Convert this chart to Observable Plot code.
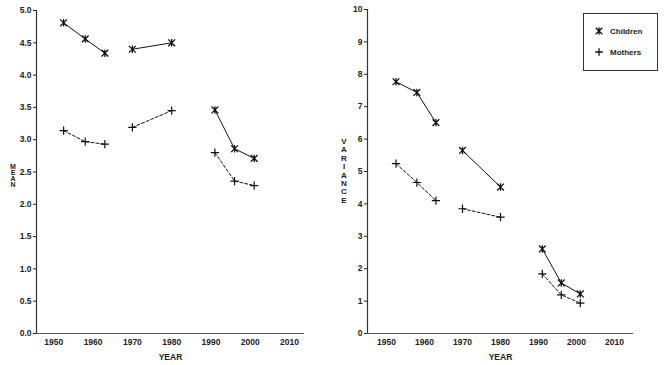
<!DOCTYPE html>
<html>
<head>
<meta charset="utf-8">
<script src="https://cdn.jsdelivr.net/npm/d3@7"></script>
<script src="https://cdn.jsdelivr.net/npm/@observablehq/plot@0.6"></script>
<style>
  html, body { margin: 0; padding: 0; background: #fff; }
  #wrap { position: relative; width: 668px; height: 365px; overflow: hidden; font-family: "Liberation Sans", Arial, sans-serif; }
  .panel { position: absolute; top: 0; }
  .vlab { position: absolute; font-weight: bold; color: #222; text-align: center; }
  #legend { position: absolute; left: 583px; top: 13px; width: 75px; height: 58px; border: 1px solid #333; box-sizing: border-box; font-size: 8px; font-weight: bold; color: #222; }
  #legend .row { position: absolute; left: 10px; display: flex; align-items: center; }
  #legend svg { margin-right: 6px; }
</style>
</head>
<body>
<div id="wrap">
  <div id="left" class="panel" style="left:0px"></div>
  <div id="right" class="panel" style="left:334px"></div>
  <div class="vlab" id="meanLab" style="left:8px; top:164px; width:10px; font-size:7px; line-height:6px;"></div>
  <div class="vlab" id="varLab" style="left:339px; top:138px; width:10px; font-size:8px; line-height:8.4px;"></div>
  <div id="legend"></div>
</div>
<script>
// ---- data ----
const years = [1952.5, 1958, 1963, 1970, 1980, 1991, 1996, 2001];
const periods = ["p1", "p1", "p1", "p2", "p2", "p3", "p3", "p3"];
const childrenMean = [4.81, 4.56, 4.34, 4.40, 4.50, 3.46, 2.86, 2.71];
const mothersMean = [3.14, 2.97, 2.93, 3.19, 3.45, 2.80, 2.36, 2.29];
const childrenVar = [7.77, 7.44, 6.51, 5.65, 4.52, 2.61, 1.56, 1.22];
const mothersVar = [5.24, 4.66, 4.10, 3.85, 3.59, 1.84, 1.19, 0.94];
const xTicks = [1950, 1960, 1970, 1980, 1990, 2000, 2010];
const meanTicks = [0, 0.5, 1, 1.5, 2, 2.5, 3, 3.5, 4, 4.5, 5];
const varTicks = [0, 1, 2, 3, 4, 5, 6, 7, 8, 9, 10];
const seriesNames = ["Children", "Mothers"];
const meanLabel = "MEAN";
const varLabel = "VARIANCE";
const xLabel = "YEAR";

// ---- symbols ----
const asteriskSym = {
  draw(ctx, size) {
    const r = Math.sqrt(size / Math.PI);
    ctx.moveTo(-r, -r); ctx.lineTo(r, r);
    ctx.moveTo(-r, r); ctx.lineTo(r, -r);
    ctx.moveTo(0, -r * 1.1); ctx.lineTo(0, r * 1.1);
  }
};
const plusSym = {
  draw(ctx, size) {
    const r = Math.sqrt(size / Math.PI);
    ctx.moveTo(-r * 1.15, 0); ctx.lineTo(r * 1.15, 0);
    ctx.moveTo(0, -r * 1.15); ctx.lineTo(0, r * 1.15);
  }
};

function rows(vals) {
  return years.map((y, i) => ({year: y, value: vals[i], period: periods[i]}));
}

function panel({width, marginLeft, marginRight, marginTop, xDomain, yDomain, yTicks, yFormat, children, mothers}) {
  const c = rows(children), m = rows(mothers);
  return Plot.plot({
    width, height: 365,
    marginLeft, marginRight, marginTop, marginBottom: 32,
    style: {fontFamily: "'Liberation Sans', Arial, sans-serif", fontSize: "8.5px", fontWeight: "bold", color: "#222", background: "white"},
    x: {domain: xDomain, ticks: xTicks, tickFormat: d => String(d), tickSize: 0, tickPadding: 5, label: null},
    y: {domain: yDomain, ticks: yTicks, tickFormat: yFormat, tickSize: 3, tickPadding: 2, label: null},
    marks: [
      Plot.ruleX([xDomain[0]], {stroke: "#333", strokeWidth: 1.2}),
      Plot.ruleY([yDomain[0]], {stroke: "#555", strokeWidth: 1.2}),
      Plot.line(c, {x: "year", y: "value", z: "period", stroke: "#111", strokeWidth: 1}),
      Plot.line(m, {x: "year", y: "value", z: "period", stroke: "#111", strokeWidth: 1, strokeDasharray: "3,2"}),
      Plot.dot(c, {x: "year", y: "value", symbol: asteriskSym, r: 3.4, stroke: "#111", strokeWidth: 1.3, fill: "none"}),
      Plot.dot(m, {x: "year", y: "value", symbol: plusSym, r: 3.6, stroke: "#111", strokeWidth: 1.2, fill: "none"}),
      Plot.text([xLabel], {frameAnchor: "bottom", lineAnchor: "bottom", dy: 26, text: d => d, fontSize: 8.5, fontWeight: "bold"})
    ]
  });
}

document.getElementById("left").append(panel({
  width: 334, marginLeft: 36, marginRight: 30, marginTop: 10,
  xDomain: [1945.6, 2013.8], yDomain: [0, 5], yTicks: meanTicks, yFormat: d3.format(".1f"),
  children: childrenMean, mothers: mothersMean
}));

document.getElementById("right").append(panel({
  width: 334, marginLeft: 33, marginRight: 35, marginTop: 9,
  xDomain: [1945, 2015], yDomain: [0, 10], yTicks: varTicks, yFormat: d => String(d),
  children: childrenVar, mothers: mothersVar
}));

document.getElementById("meanLab").innerHTML = meanLabel.split("").join("<br>");
document.getElementById("varLab").innerHTML = varLabel.split("").join("<br>");

// legend
const leg = document.getElementById("legend");
const syms = [asteriskSym, plusSym];
seriesNames.forEach((name, i) => {
  const row = document.createElement("div");
  row.className = "row";
  row.style.top = (i === 0 ? 12 : 33) + "px";
  const s = d3.create("svg").attr("width", 10).attr("height", 10);
  const path = d3.path();
  syms[i].draw(path, 3.3 * 3.3 * Math.PI);
  s.append("path").attr("transform", "translate(5,5)").attr("d", path.toString())
    .attr("stroke", "#111").attr("stroke-width", 1.3).attr("fill", "none");
  row.append(s.node());
  const t = document.createElement("span");
  t.textContent = name;
  row.append(t);
  leg.append(row);
});
</script>
</body>
</html>
